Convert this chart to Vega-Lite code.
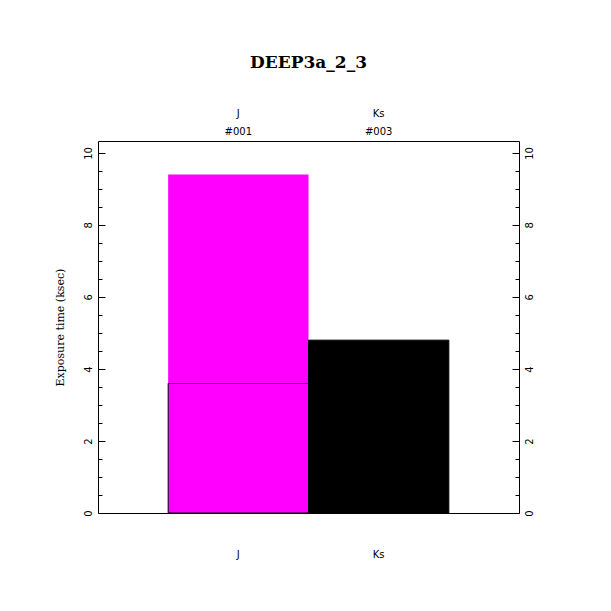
{
  "$schema": "https://vega.github.io/schema/vega-lite/v6.json",
  "width": 421,
  "height": 372,
  "autosize": "none",
  "padding": {"left": 98, "top": 141, "right": 92, "bottom": 98},
  "background": "white",
  "title": {
    "text": "DEEP3a_2_3",
    "font": "DejaVu Serif",
    "fontWeight": "bold",
    "fontSize": 17,
    "color": "black",
    "offset": 36
  },
  "data": {
    "values": [
      {"filter": "J", "frame": "#001", "exp": 1, "ksec": 3.6},
      {"filter": "J", "frame": "#002", "exp": 2, "ksec": 5.8},
      {"filter": "Ks", "frame": "#003", "exp": 1, "ksec": 4.8}
    ]
  },
  "layer": [
    {
      "mark": {"type": "bar", "stroke": "black"},
      "encoding": {
        "x": {
          "field": "filter",
          "type": "nominal",
          "sort": null,
          "scale": {"paddingInner": 0, "paddingOuter": 0.5},
          "axis": {
            "orient": "bottom",
            "title": null,
            "labelAngle": 0,
            "ticks": false,
            "domain": false,
            "labelPadding": 36,
            "labelFont": "DejaVu Sans",
            "labelFontSize": 10,
            "labelColor": "black"
          }
        },
        "y": {
          "field": "ksec",
          "type": "quantitative",
          "stack": "zero",
          "scale": {"domain": [0, 10.33], "nice": false},
          "axis": {
            "orient": "left",
            "title": "Exposure time (ksec)",
            "titleFont": "DejaVu Serif",
            "titleFontSize": 11,
            "titleFontWeight": "normal",
            "titleColor": "black",
            "titlePadding": 18,
            "values": [0, 0.5, 1, 1.5, 2, 2.5, 3, 3.5, 4, 4.5, 5, 5.5, 6, 6.5, 7, 7.5, 8, 8.5, 9, 9.5, 10],
            "labelExpr": "datum.value % 2 === 0 ? format(datum.value, 'd') : ''",
            "tickSize": {"condition": {"test": "datum.value % 2 === 0", "value": -7}, "value": -4},
            "tickColor": "black",
            "domain": false,
            "grid": false,
            "labelAngle": 270,
            "labelFont": "DejaVu Sans",
            "labelFontSize": 10,
            "labelColor": "black",
            "labelPadding": 12
          }
        },
        "color": {
          "field": "filter",
          "type": "nominal",
          "scale": {"domain": ["J", "Ks"], "range": ["#ff00ff", "#000000"]},
          "legend": null
        },
        "strokeWidth": {"condition": {"test": "datum.exp === 1", "value": 1}, "value": 0},
        "order": {"field": "exp", "type": "quantitative"}
      }
    },
    {
      "mark": {"type": "bar", "opacity": 0},
      "encoding": {
        "x": {
          "field": "filter",
          "type": "nominal",
          "sort": null,
          "axis": {
            "orient": "top",
            "title": null,
            "labelAngle": 0,
            "ticks": false,
            "domain": false,
            "labelPadding": 23,
            "labelExpr": "datum.value === 'J' ? ['J', '#001'] : ['Ks', '#003']",
            "labelLineHeight": 18,
            "labelFont": "DejaVu Sans",
            "labelFontSize": 10,
            "labelColor": "black"
          }
        },
        "y": {
          "field": "ksec",
          "type": "quantitative",
          "stack": "zero",
          "axis": {
            "orient": "right",
            "title": null,
            "values": [0, 0.5, 1, 1.5, 2, 2.5, 3, 3.5, 4, 4.5, 5, 5.5, 6, 6.5, 7, 7.5, 8, 8.5, 9, 9.5, 10],
            "labelExpr": "datum.value % 2 === 0 ? format(datum.value, 'd') : ''",
            "tickSize": {"condition": {"test": "datum.value % 2 === 0", "value": -7}, "value": -4},
            "tickColor": "black",
            "domain": false,
            "grid": false,
            "labelAngle": 270,
            "labelFont": "DejaVu Sans",
            "labelFontSize": 10,
            "labelColor": "black",
            "labelPadding": 12
          }
        },
        "order": {"field": "exp", "type": "quantitative"}
      }
    }
  ],
  "config": {
    "view": {"stroke": "black", "strokeWidth": 1}
  }
}
